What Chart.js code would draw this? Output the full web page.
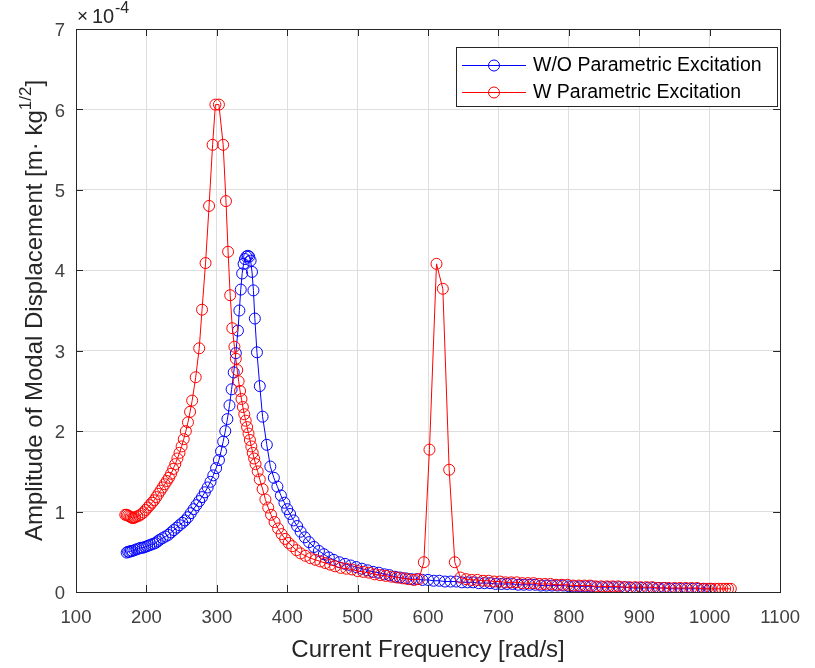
<!DOCTYPE html>
<html>
<head>
<meta charset="utf-8">
<title>Modal displacement amplitude</title>
<script src="https://cdn.jsdelivr.net/npm/chart.js@4.4.1/dist/chart.umd.min.js"></script>
<style>
  html, body { margin: 0; padding: 0; background: #fff; }
  canvas { display: block; }
</style>
</head>
<body>
<canvas id="ampChart" width="815" height="668"></canvas>
<script>
// axis ticks
const xTicks = [100, 200, 300, 400, 500, 600, 700, 800, 900, 1000, 1100];
const yTicks = [0, 1, 2, 3, 4, 5, 6, 7];
const yExponent = '-4';

const seriesLabels = ['W/O Parametric Excitation', 'W Parametric Excitation'];
const seriesColors = ['#0000ff', '#ff0000'];

// W/O parametric excitation: frequency [rad/s] and amplitude [x1e-4]
const woFreq = [
  172, 174, 176, 178, 180, 183, 186, 189, 192, 195, 198, 201, 204, 207, 210, 213, 216, 219,
  223, 227, 231, 235, 239, 243, 247, 251, 255, 259, 263, 267, 271, 275, 279, 283, 287, 291,
  295, 299, 303, 306, 309, 312, 315, 318, 321, 324, 327, 330, 332, 334, 336, 338, 340, 342,
  344, 346, 348, 350, 352, 354, 357, 361, 365, 371, 376, 381, 386, 391, 396, 400, 404, 409,
  414, 419, 425, 431, 438, 445, 452, 459, 466, 474, 482, 490, 498, 506, 514, 522, 530, 538,
  545, 553, 560, 568, 576, 584, 592, 600, 608, 616, 624, 632, 640, 648, 656, 664, 672, 680,
  688, 696, 704, 712, 720, 728, 736, 744, 752, 760, 768, 776, 784, 792, 800, 808, 816, 824,
  832, 840, 848, 856, 864, 872, 880, 888, 896, 904, 912, 920, 928, 936, 944, 952, 960, 968,
  976, 984, 992, 1000
];
const woAmp = [
  0.49, 0.50, 0.50, 0.51, 0.51, 0.52, 0.53, 0.54, 0.55, 0.55, 0.56, 0.57, 0.58, 0.59, 0.60, 0.61, 0.63, 0.65,
  0.67, 0.69, 0.71, 0.74, 0.77, 0.80, 0.83, 0.86, 0.89, 0.93, 0.98, 1.03, 1.08, 1.13, 1.18, 1.24, 1.30, 1.37,
  1.45, 1.54, 1.64, 1.75, 1.87, 2.00, 2.15, 2.32, 2.52, 2.73, 2.97, 3.25, 3.50, 3.76, 3.96, 4.08, 4.14, 4.17,
  4.18, 4.17, 4.12, 3.98, 3.75, 3.40, 2.98, 2.56, 2.18, 1.83, 1.56, 1.42, 1.31, 1.20, 1.11, 1.03, 0.97, 0.89,
  0.82, 0.75, 0.68, 0.62, 0.56, 0.51, 0.47, 0.43, 0.40, 0.37, 0.35, 0.33, 0.31, 0.29, 0.27, 0.25, 0.24, 0.22,
  0.21, 0.19, 0.18, 0.17, 0.16, 0.16, 0.15, 0.15, 0.14, 0.14, 0.13, 0.13, 0.13, 0.12, 0.12, 0.12, 0.11, 0.11,
  0.11, 0.10, 0.10, 0.10, 0.10, 0.09, 0.09, 0.09, 0.09, 0.08, 0.08, 0.08, 0.08, 0.08, 0.07, 0.07, 0.07, 0.07,
  0.07, 0.06, 0.06, 0.06, 0.06, 0.06, 0.06, 0.05, 0.05, 0.05, 0.05, 0.05, 0.05, 0.05, 0.04, 0.04, 0.04, 0.04,
  0.04, 0.04, 0.04, 0.04
];

// W parametric excitation
const wFreq = [
  170, 172, 174, 176, 178, 180, 182, 184, 187, 190, 193, 196, 199, 202, 205, 208, 211, 214,
  217, 220, 223, 226, 229, 232, 235, 238, 241, 244, 247, 250, 253, 256, 259, 262, 265, 270,
  275, 279, 284, 289, 294, 298, 303, 309, 313, 316, 319, 322, 325, 327, 329, 331, 333, 335,
  337, 339, 341, 343, 345, 347, 349, 351, 353, 355, 358, 361, 365, 369, 373, 377, 382, 387,
  392, 397, 402, 407, 413, 419, 426, 433, 440, 447, 454, 461, 468, 476, 484, 492, 500, 508,
  516, 524, 532, 540, 548, 556, 564, 572, 580, 587, 594, 602, 612, 621, 630, 638, 646, 654,
  662, 670, 678, 686, 694, 702, 710, 718, 726, 734, 742, 750, 758, 766, 774, 782, 790, 798,
  806, 814, 822, 830, 838, 846, 854, 862, 870, 878, 886, 894, 902, 910, 918, 926, 934, 942,
  950, 958, 966, 974, 982, 990, 996, 1002, 1008, 1013, 1018, 1022, 1026, 1030
];
const wAmp = [
  0.96, 0.96, 0.95, 0.94, 0.93, 0.92, 0.92, 0.93, 0.94, 0.95, 0.97, 0.99, 1.02, 1.05, 1.08, 1.11, 1.14, 1.18,
  1.22, 1.26, 1.30, 1.34, 1.38, 1.42, 1.47, 1.53, 1.59, 1.66, 1.73, 1.81, 1.90, 2.00, 2.11, 2.24, 2.38, 2.67,
  3.03, 3.51, 4.09, 4.80, 5.56, 6.06, 6.06, 5.56, 4.86, 4.23, 3.69, 3.28, 3.05, 2.90, 2.76, 2.62, 2.50, 2.40,
  2.30, 2.21, 2.13, 2.05, 1.97, 1.89, 1.81, 1.73, 1.66, 1.59, 1.50, 1.40, 1.28, 1.15, 1.05, 0.96, 0.87, 0.79,
  0.72, 0.66, 0.61, 0.57, 0.52, 0.48, 0.45, 0.42, 0.40, 0.38, 0.36, 0.34, 0.32, 0.30, 0.29, 0.28, 0.26, 0.25,
  0.24, 0.22, 0.21, 0.20, 0.19, 0.18, 0.17, 0.16, 0.15, 0.16, 0.37, 1.77, 4.08, 3.77, 1.52, 0.37, 0.18, 0.16,
  0.15, 0.15, 0.14, 0.14, 0.13, 0.13, 0.12, 0.12, 0.12, 0.11, 0.11, 0.11, 0.10, 0.10, 0.10, 0.09, 0.09, 0.09,
  0.08, 0.08, 0.08, 0.08, 0.07, 0.07, 0.07, 0.07, 0.07, 0.06, 0.06, 0.06, 0.06, 0.06, 0.06, 0.05, 0.05, 0.05,
  0.05, 0.05, 0.05, 0.05, 0.05, 0.04, 0.04, 0.04, 0.04, 0.04, 0.04, 0.04, 0.04, 0.04
];

const FONT = "'Liberation Sans', Arial, Helvetica, sans-serif";
const AXIS_COLOR = '#262626';

const toPoints = (xs, ys) => xs.map((x, i) => ({ x: x, y: ys[i] }));

// box, inward ticks, axis titles, exponent and legend (MATLAB look)
const framePlugin = {
  id: 'frame',
  afterDraw(chart) {
    const ctx = chart.ctx;
    const a = chart.chartArea;
    const xs = chart.scales.x;
    const ys = chart.scales.y;
    const tickLen = 7;

    ctx.save();
    ctx.strokeStyle = AXIS_COLOR;
    ctx.lineWidth = 1;
    ctx.strokeRect(Math.round(a.left) + 0.5, Math.round(a.top) + 0.5,
      Math.round(a.right - a.left), Math.round(a.bottom - a.top));

    ctx.beginPath();
    xTicks.forEach(v => {
      const px = Math.round(xs.getPixelForValue(v)) + 0.5;
      ctx.moveTo(px, a.bottom); ctx.lineTo(px, a.bottom - tickLen);
      ctx.moveTo(px, a.top); ctx.lineTo(px, a.top + tickLen);
    });
    yTicks.forEach(v => {
      const py = Math.round(ys.getPixelForValue(v)) + 0.5;
      ctx.moveTo(a.left, py); ctx.lineTo(a.left + tickLen, py);
      ctx.moveTo(a.right, py); ctx.lineTo(a.right - tickLen, py);
    });
    ctx.stroke();

    // x10^-4 above the y axis
    ctx.fillStyle = AXIS_COLOR;
    ctx.textBaseline = 'alphabetic';
    ctx.textAlign = 'left';
    ctx.font = '19px ' + FONT;
    ctx.fillText('\u00d7', a.left + 1, 22);
    ctx.font = '20px ' + FONT;
    ctx.fillText('10', a.left + 16, 23);
    ctx.font = '16px ' + FONT;
    ctx.fillText(yExponent, a.left + 39, 13);

    // x axis title
    ctx.font = '24px ' + FONT;
    ctx.textAlign = 'center';
    ctx.textBaseline = 'middle';
    ctx.fillText('Current Frequency [rad/s]', (a.left + a.right) / 2, 650);

    // y axis title with superscript
    const main = 'Amplitude of Modal Displacement [m\u00b7 kg';
    const sup = '1/2';
    const tail = ']';
    ctx.font = '24px ' + FONT;
    const wMain = ctx.measureText(main).width;
    const wTail = ctx.measureText(tail).width;
    ctx.font = '17px ' + FONT;
    const wSup = ctx.measureText(sup).width;
    const total = wMain + wSup + wTail;
    ctx.translate(42, (a.top + a.bottom) / 2);
    ctx.rotate(-Math.PI / 2);
    ctx.textAlign = 'left';
    ctx.textBaseline = 'alphabetic';
    let cx = -total / 2;
    ctx.font = '24px ' + FONT;
    ctx.fillText(main, cx, 0);
    cx += wMain;
    ctx.font = '17px ' + FONT;
    ctx.fillText(sup, cx, -11);
    cx += wSup;
    ctx.font = '24px ' + FONT;
    ctx.fillText(tail, cx, 0);
    ctx.restore();

    // legend
    ctx.save();
    const lx = 456.5, ly = 47.5, lw = 321, lh = 59;
    ctx.fillStyle = '#fff';
    ctx.fillRect(lx, ly, lw, lh);
    ctx.strokeStyle = AXIS_COLOR;
    ctx.lineWidth = 1;
    ctx.strokeRect(lx, ly, lw, lh);
    ctx.font = '19.5px ' + FONT;
    ctx.textAlign = 'left';
    ctx.textBaseline = 'middle';
    [65, 92].forEach((rowY, i) => {
      ctx.strokeStyle = seriesColors[i];
      ctx.beginPath();
      ctx.moveTo(462, rowY + 0.5); ctx.lineTo(526, rowY + 0.5);
      ctx.stroke();
      ctx.beginPath();
      ctx.arc(494, rowY + 0.5, 5.5, 0, Math.PI * 2);
      ctx.stroke();
      ctx.fillStyle = '#000';
      ctx.fillText(seriesLabels[i], 533, rowY + 1);
    });
    ctx.restore();
  }
};

const datasetStyle = color => ({
  showLine: true,
  borderColor: color,
  borderWidth: 1,
  pointStyle: 'circle',
  pointRadius: 5.5,
  pointBorderWidth: 1,
  pointBorderColor: color,
  pointBackgroundColor: 'rgba(0,0,0,0)',
  tension: 0
});

const ctx = document.getElementById('ampChart').getContext('2d');
const ampChart = new Chart(ctx, {
  type: 'scatter',
  data: {
    datasets: [
      Object.assign({ label: seriesLabels[0], data: toPoints(woFreq, woAmp), order: 1 }, datasetStyle(seriesColors[0])),
      Object.assign({ label: seriesLabels[1], data: toPoints(wFreq, wAmp), order: 0 }, datasetStyle(seriesColors[1]))
    ]
  },
  options: {
    responsive: false,
    animation: false,
    devicePixelRatio: 1,
    layout: { padding: { top: 29, right: 26, left: 0, bottom: 0 } },
    plugins: {
      legend: { display: false },
      tooltip: { enabled: false }
    },
    scales: {
      x: {
        type: 'linear',
        min: 100,
        max: 1100,
        afterBuildTicks: s => { s.ticks = xTicks.map(v => ({ value: v })); },
        afterFit: s => { s.height = 76; },
        grid: { color: '#dedede', drawTicks: false },
        border: { display: false },
        ticks: {
          padding: 15,
          maxRotation: 0,
          color: '#404040',
          font: { family: FONT, size: 18.5 },
          callback: v => String(v)
        }
      },
      y: {
        type: 'linear',
        min: 0,
        max: 7,
        afterBuildTicks: s => { s.ticks = yTicks.map(v => ({ value: v })); },
        afterFit: s => { s.width = 76; },
        grid: { color: '#dedede', drawTicks: false },
        border: { display: false },
        ticks: {
          padding: 11,
          labelOffset: 2,
          color: '#404040',
          font: { family: FONT, size: 18.5 },
          callback: v => String(v)
        }
      }
    }
  },
  plugins: [framePlugin]
});
</script>
</body>
</html>
